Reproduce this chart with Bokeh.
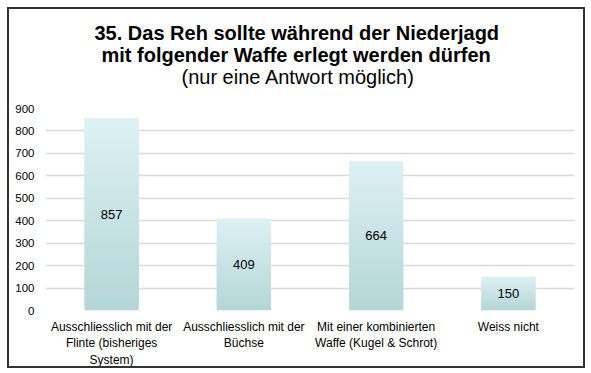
from bokeh.plotting import figure
from bokeh.models import FactorRange, Range1d, Title, ColumnDataSource, LabelSet
from bokeh.core.properties import value
from bokeh.embed import file_html
from bokeh.resources import INLINE

categories = [
    "Ausschliesslich mit der\nFlinte (bisheriges\nSystem)",
    "Ausschliesslich mit der\nBüchse",
    "Mit einer kombinierten\nWaffe (Kugel & Schrot)",
    "Weiss nicht",
]
values = [857, 409, 664, 150]
y_ticks = [0, 100, 200, 300, 400, 500, 600, 700, 800, 900]

FONT = "Liberation Sans"

p = figure(
    x_range=FactorRange(*categories, range_padding=0),
    y_range=Range1d(0, 900),
    width=574, height=357,
    output_backend="svg", toolbar_location=None,
    min_border_left=36, min_border_right=13, min_border_bottom=51, min_border_top=0,
)
p.styles = {"border": "2px solid #333333", "box-sizing": "content-box",
            "margin-left": "7px", "margin-top": "7px"}

# gradient bars: stacked thin segments derived from the data values
n_seg = 40
top_rgb = (0xDD, 0xF1, 0xF4)
bot_rgb = (0xB4, 0xD6, 0xD6)
xs, bottoms, tops, colors = [], [], [], []
for c, v in zip(categories, values):
    for i in range(n_seg):
        t = (i + 0.5) / n_seg
        rgb = tuple(round(bot_rgb[k] + (top_rgb[k] - bot_rgb[k]) * t) for k in range(3))
        xs.append(c)
        bottoms.append(v * i / n_seg)
        tops.append(v * min(i + 2, n_seg) / n_seg)
        colors.append("#%02x%02x%02x" % rgb)
p.vbar(x=xs, bottom=bottoms, top=tops, width=0.41, fill_color=colors, line_color=None)

src = ColumnDataSource(dict(x=categories, y=[v / 2 for v in values], t=[str(v) for v in values]))
p.add_layout(LabelSet(x="x", y="y", text="t", source=src, text_align="center",
                      text_baseline="middle", text_font=value(FONT), text_font_size="13px",
                      text_color="#000000"))

p.yaxis.ticker = y_ticks
p.ygrid.grid_line_color = "#dadada"
p.ygrid.grid_line_width = 1.5
p.xgrid.grid_line_color = None
p.outline_line_color = None
for ax in (p.xaxis, p.yaxis):
    ax.axis_line_color = None
    ax.major_tick_line_color = None
    ax.minor_tick_line_color = None
    ax.major_label_text_font = FONT
    ax.major_label_text_color = "#000000"
p.yaxis.major_label_text_font_size = "11.5px"
p.xaxis.major_label_text_font_size = "12px"
p.yaxis.major_label_standoff = 5
p.xaxis.major_label_standoff = 3

# spacer between subtitle and plot area
p.add_layout(Title(text=" ", text_font_size="17.5px", standoff=0), "above")
for txt, style, off in [
    ("(nur eine Antwort möglich)", "normal", 136),
    ("mit folgender Waffe erlegt werden dürfen", "bold", 56),
    ("35. Das Reh sollte während der Niederjagd", "bold", 49),
]:
    p.add_layout(Title(text=txt, align="left", offset=off, text_font=FONT,
                       text_font_size="20px", text_font_style=style,
                       text_color="#000000", standoff=-2), "above")
# spacer at the very top
p.add_layout(Title(text=" ", text_font_size="7.5px", standoff=0), "above")

p.background_fill_color = "white"
p.border_fill_color = "white"

open("out.html", "w").write(file_html(p, INLINE))
